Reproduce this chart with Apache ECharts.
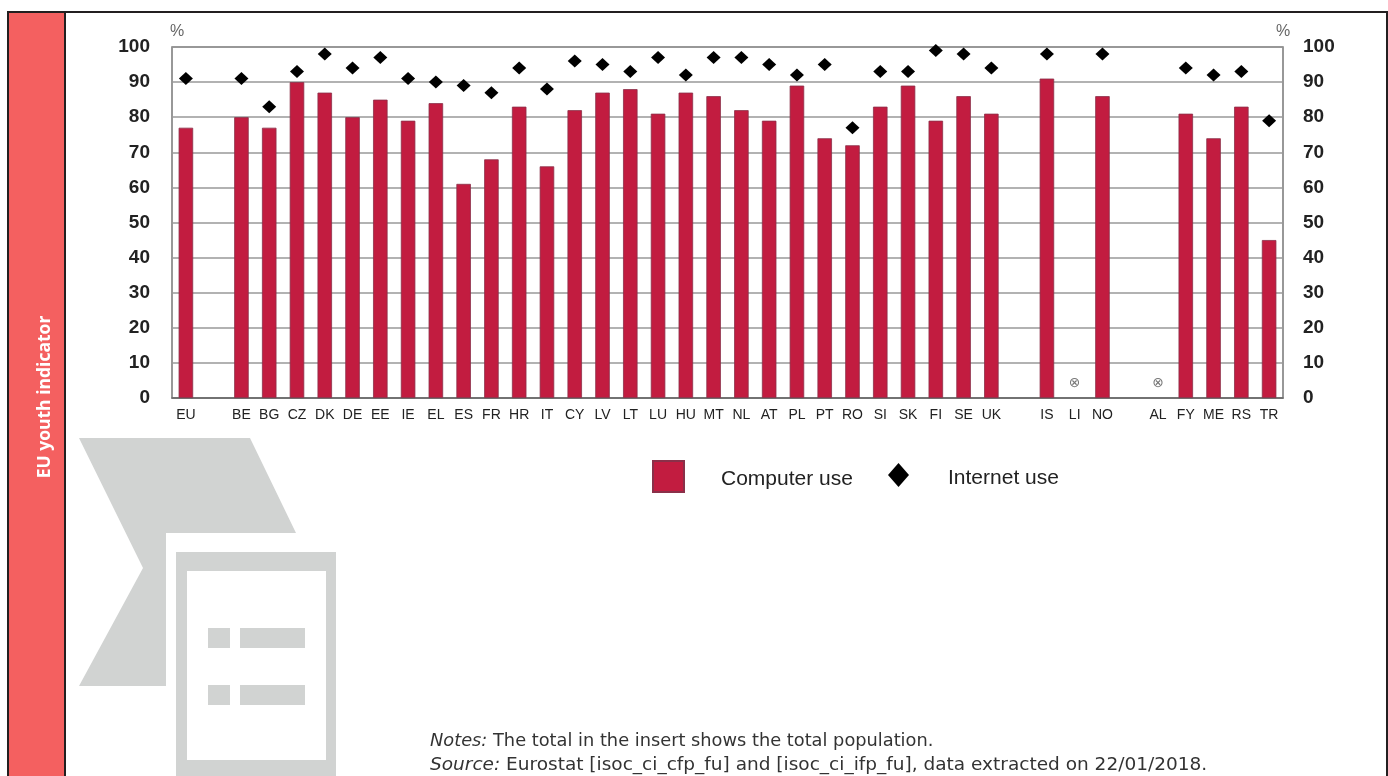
<!DOCTYPE html>
<html>
<head>
<meta charset="utf-8">
<title>EU youth indicator</title>
<script src="https://cdn.jsdelivr.net/npm/echarts@6/dist/echarts.min.js"></script>
<style>
    html, body { margin: 0; padding: 0; background: #fff; }
    #main { width: 1388px; height: 776px; }
</style>
</head>
<body>
<div id="main"></div>
<script>
// empty strings are the gaps between the country groups
const categories = ['EU', '', 'BE', 'BG', 'CZ', 'DK', 'DE', 'EE', 'IE', 'EL', 'ES', 'FR', 'HR', 'IT', 'CY', 'LV', 'LT', 'LU', 'HU', 'MT', 'NL', 'AT', 'PL', 'PT', 'RO', 'SI', 'SK', 'FI', 'SE', 'UK', '', 'IS', 'LI', 'NO', '', 'AL', 'FY', 'ME', 'RS', 'TR']
const computerUse = [77, null, 80, 77, 90, 87, 80, 85, 79, 84, 61, 68, 83, 66, 82, 87, 88, 81, 87, 86, 82, 79, 89, 74, 72, 83, 89, 79, 86, 81, null, 91, null, 86, null, null, 81, 74, 83, 45]
const internetUse = [91, null, 91, 83, 93, 98, 94, 97, 91, 90, 89, 87, 94, 88, 96, 95, 93, 97, 92, 97, 97, 95, 92, 95, 77, 93, 93, 99, 98, 94, null, 98, null, 98, null, null, 94, 92, 93, 79]
// position of the "not available" sign at LI and AL
const notAvailable = categories.map(c => (c === 'LI' || c === 'AL') ? 4.3 : null)

const ticks = { min: 0, max: 100, interval: 10 }
const sans = '"Liberation Sans", sans-serif'
const gray = '#d1d3d2'
const frame = '#231f20'
const coral = '#f46060'

function box(x, y, width, height, fill) {
    return { type: 'rect', silent: true, shape: { x, y, width, height }, style: { fill } }
}

// the notes are set in DejaVu with an italic lead-in
function note(y, fontSize, text) {
    return {
        type: 'text', silent: true, x: 430, y,
        style: {
            text,
            fontFamily: 'DejaVu Sans', fontSize, fill: '#333', verticalAlign: 'middle',
            rich: { i: { fontFamily: 'DejaVu Sans', fontSize, fontStyle: 'italic', fill: '#333' } }
        }
    }
}

// legend text sits a little lower than its symbol, rich padding does that
function legendText(left) {
    return {
        rich: { t: { fontFamily: sans, fontSize: 21, color: '#222', padding: [6, 0, 0, left] } }
    }
}

const chart = echarts.init(document.getElementById('main'), null, { renderer: 'canvas' })

chart.setOption({
    animation: false,
    backgroundColor: '#fff',
    grid: {
        left: 172, top: 47, width: 1111, height: 351,
        show: true, borderColor: '#777', borderWidth: 1.5
    },
    legend: [
        {
            left: 652, top: 460, padding: 0, itemWidth: 31, itemHeight: 31,
            data: [{ name: 'Computer use', icon: 'rect' }],
            formatter: '{t|{name}}',
            textStyle: legendText(32)
        },
        {
            left: 888, top: 463, padding: 0, itemWidth: 21, itemHeight: 24,
            data: ['Internet use'],
            formatter: '{t|{name}}',
            textStyle: legendText(34)
        }
    ],
    xAxis: {
        type: 'category',
        data: categories,
        axisTick: { show: false },
        axisLine: { lineStyle: { color: '#666', width: 1.5 } },
        axisLabel: { interval: 0, margin: 10, fontFamily: sans, fontSize: 14, color: '#222' }
    },
    yAxis: [
        {
            type: 'value', ...ticks,
            name: '%',
            nameGap: 7,
            nameTextStyle: { fontFamily: sans, fontSize: 16, color: '#666', padding: [0, 0, 0, 10] },
            axisLine: { show: false },
            axisTick: { show: false },
            splitLine: { lineStyle: { color: '#999', width: 1.5 } },
            axisLabel: { margin: 22, fontFamily: sans, fontWeight: 'bold', fontSize: 19, color: '#222' }
        },
        {
            type: 'value', ...ticks,
            position: 'right',
            name: '%',
            nameGap: 7,
            nameTextStyle: { fontFamily: sans, fontSize: 16, color: '#666' },
            axisLine: { show: false },
            axisTick: { show: false },
            splitLine: { show: false },
            axisLabel: { margin: 20, fontFamily: sans, fontWeight: 'bold', fontSize: 19, color: '#222' }
        }
    ],
    series: [
        {
            name: 'Computer use',
            type: 'bar',
            barWidth: 14.5,
            data: computerUse,
            itemStyle: { color: '#c21c40', borderColor: '#8a3049', borderWidth: 0.8 }
        },
        {
            name: 'Internet use',
            type: 'scatter',
            symbol: 'diamond',
            symbolSize: [14, 13],
            data: internetUse,
            itemStyle: { color: '#000', opacity: 1 }
        },
        {
            name: 'Not available',
            type: 'scatter',
            symbolSize: 0,
            data: notAvailable,
            label: { show: true, position: 'inside', formatter: '⊗', fontFamily: 'DejaVu Sans', fontSize: 14, color: '#555' }
        }
    ],
    graphic: [
        // side band and frame
        box(9, 13, 55, 763, coral),
        box(7, 11, 1381, 2, frame),
        box(7, 11, 2, 765, frame),
        box(64, 11, 2, 765, frame),
        box(1386, 11, 2, 765, frame),
        {
            type: 'text', silent: true, x: 45, y: 397, rotation: Math.PI / 2,
            style: {
                text: 'EU youth indicator', fill: '#fff',
                fontFamily: 'Open Sans', fontWeight: 'bold', fontSize: 17.5,
                align: 'center', verticalAlign: 'middle'
            }
        },
        // grey document icon
        {
            type: 'polygon', silent: true,
            shape: { points: [[79, 438], [250, 438], [296, 533], [166, 533], [166, 686], [79, 686], [143, 568]] },
            style: { fill: gray }
        },
        box(176, 552, 160, 224, gray),
        box(187, 571, 139, 189, '#fff'),
        box(208, 628, 22, 20, gray),
        box(240, 628, 65, 20, gray),
        box(208, 685, 22, 20, gray),
        box(240, 685, 65, 20, gray),
        note(741, 17.8, '{i|Notes:} The total in the insert shows the total population.'),
        note(765, 18.5, '{i|Source:} Eurostat [isoc_ci_cfp_fu] and [isoc_ci_ifp_fu], data extracted on 22/01/2018.')
    ]
})
</script>
</body>
</html>
